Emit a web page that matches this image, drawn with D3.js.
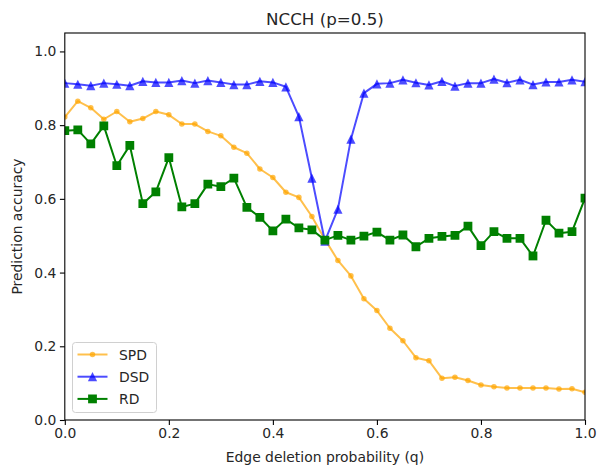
<!DOCTYPE html>
<html><head><meta charset="utf-8">
<script src="https://cdn.jsdelivr.net/npm/d3@7"></script>
<style>body{margin:0;background:#fff}svg{display:block}text{font-family:"DejaVu Sans",sans-serif;fill:#262626}</style>
</head><body><svg id="c" width="598" height="467"></svg>
<script>
const qValues = d3.range(41).map(i => +(i * 0.025).toFixed(3));
const spd = [0.822,0.865,0.847,0.816,0.837,0.809,0.818,0.837,0.828,0.803,0.803,0.783,0.771,0.740,0.724,0.681,0.658,0.618,0.604,0.552,0.490,0.433,0.391,0.329,0.297,0.249,0.215,0.169,0.161,0.113,0.116,0.107,0.095,0.090,0.087,0.087,0.087,0.087,0.084,0.085,0.075];
const dsd = [0.914,0.911,0.907,0.914,0.911,0.907,0.919,0.916,0.916,0.921,0.914,0.921,0.916,0.910,0.910,0.919,0.916,0.904,0.823,0.656,0.485,0.572,0.762,0.887,0.912,0.914,0.923,0.915,0.909,0.919,0.906,0.914,0.914,0.925,0.915,0.923,0.910,0.917,0.917,0.923,0.918];
const rd = [0.785,0.787,0.749,0.798,0.690,0.745,0.587,0.619,0.712,0.578,0.587,0.640,0.633,0.656,0.577,0.550,0.513,0.545,0.521,0.516,0.488,0.501,0.488,0.499,0.510,0.488,0.502,0.470,0.493,0.498,0.501,0.526,0.473,0.511,0.493,0.493,0.445,0.542,0.507,0.511,0.602];
const xTicks = [0,0.2,0.4,0.6,0.8,1.0];
const yTicks = [0,0.2,0.4,0.6,0.8,1.0];
const seriesNames = ["SPD","DSD","RD"];
const seriesColors = ["rgba(255,165,0,0.7)","rgba(0,0,255,0.7)","#008000"];
const seriesMarkers = ["circle","triangle","square"];
const title = "NCCH (p=0.5)";
const xLabel = "Edge deletion probability (q)";
const yLabel = "Prediction accuracy";

const svg = d3.select("#c");
const L = 64.8, R = 585, T = 33, B = 420;
const x = d3.scaleLinear().domain([0,1]).range([L,R]);
const y = d3.scaleLinear().domain([0,1.05]).range([B,T]);

svg.append("defs").append("clipPath").attr("id","clip")
  .append("rect").attr("x",L).attr("y",T).attr("width",R-L).attr("height",B-T);

const data = [spd, dsd, rd];
function markerPath(m) {
  if (m === "circle") return d3.symbol().type(d3.symbolCircle).size(24)();
  if (m === "triangle") { const h = 4.6; return `M0,${-h}L${-h},${h}L${h},${h}Z`; }
  const s = 4.4; return `M${-s},${-s}H${s}V${s}H${-s}Z`;
}

const plot = svg.append("g").attr("clip-path","url(#clip)");
data.forEach((vals, si) => {
  const pts = vals.map((v,i) => [qValues[i], v]);
  const g = plot.append("g");
  g.append("path").datum(pts)
    .attr("d", d3.line().x(d=>x(d[0])).y(d=>y(d[1])))
    .attr("fill","none").attr("stroke",seriesColors[si]).attr("stroke-width",2).attr("stroke-linejoin","round");
  const m = seriesMarkers[si];
  g.selectAll("path.m").data(pts).join("path").attr("class","m")
    .attr("transform", d => `translate(${x(d[0])},${y(d[1])})`)
    .attr("d", markerPath(m))
    .attr("fill", seriesColors[si]).attr("stroke","none");
});

// frame
svg.append("rect").attr("x",L).attr("y",T).attr("width",R-L).attr("height",B-T)
  .attr("fill","none").attr("stroke","#000").attr("stroke-width",1.1);

// axes
const xAxis = svg.append("g").attr("transform",`translate(0,${B})`)
  .call(d3.axisBottom(x).tickValues(xTicks).tickFormat(d3.format(".1f")).tickSize(4.9).tickPadding(3.5));
const yAxis = svg.append("g").attr("transform",`translate(${L},0)`)
  .call(d3.axisLeft(y).tickValues(yTicks).tickFormat(d3.format(".1f")).tickSize(4.9).tickPadding(3.5));
[xAxis,yAxis].forEach(a => {
  a.select(".domain").remove();
  a.selectAll(".tick line").attr("stroke","#000").attr("stroke-width",1.1);
  a.selectAll(".tick text").attr("font-size","13.9px").attr("font-family","DejaVu Sans").attr("fill","#262626");
});

svg.append("text").attr("x",(L+R)/2).attr("y",24.5).attr("text-anchor","middle")
  .attr("font-size","16.7px").text(title);
svg.append("text").attr("x",(L+R)/2).attr("y",462).attr("text-anchor","middle")
  .attr("font-size","13.9px").text(xLabel);
svg.append("text").attr("transform",`translate(22,${(T+B)/2}) rotate(-90)`).attr("text-anchor","middle")
  .attr("font-size","13.9px").text(yLabel);

// legend
const lg = svg.append("g");
lg.append("rect").attr("x",72.5).attr("y",342.5).attr("width",84).attr("height",70).attr("rx",3)
  .attr("fill","rgba(255,255,255,0.8)").attr("stroke","#d0d0d0").attr("stroke-width",1);
seriesNames.forEach((name, si) => {
  const yy = 354.5 + si*22.2;
  lg.append("line").attr("x1",77.5).attr("x2",107.5).attr("y1",yy).attr("y2",yy)
    .attr("stroke",seriesColors[si]).attr("stroke-width",2);
  lg.append("path").attr("transform",`translate(92.5,${yy})`)
    .attr("d", markerPath(seriesMarkers[si])).attr("fill",seriesColors[si]);
  lg.append("text").attr("x",119).attr("y",yy+5).attr("font-size","13.9px").text(name);
});
</script></body></html>
